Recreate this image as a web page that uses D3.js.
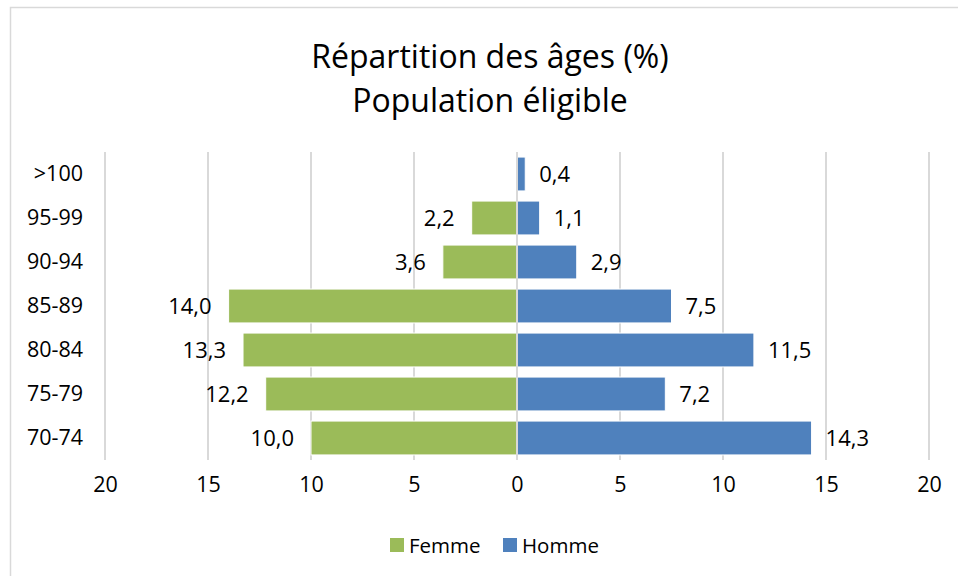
<!DOCTYPE html>
<html>
<head>
<meta charset="utf-8">
<script src="https://cdn.jsdelivr.net/npm/d3@7"></script>
<style>
  body { margin: 0; background: #fff; }
  svg { display: block; font-family: "Open Sans", sans-serif; }
</style>
</head>
<body>
<svg id="chart" width="958" height="576"></svg>
<script>
// tranches d'âge, du haut vers le bas
var ages = [">100", "95-99", "90-94", "85-89", "80-84", "75-79", "70-74"];
var femme = [0, 2.2, 3.6, 14.0, 13.3, 12.2, 10.0];
var homme = [0.4, 1.1, 2.9, 7.5, 11.5, 7.2, 14.3];
var ticks = [-20, -15, -10, -5, 0, 5, 10, 15, 20];
var series = ["Femme", "Homme"];
var colors = ["#9BBB59", "#4F81BD"];

var svg = d3.select("#chart"),
    width = +svg.attr("width"),
    height = +svg.attr("height");

var fr = d3.formatLocale({decimal: ",", thousands: " ", grouping: [3], currency: ["", " €"]});
var fmt = fr.format(".1f");

// cadre du graphique
svg.append("rect")
    .attr("x", 10.5).attr("y", 7.5)
    .attr("width", 970).attr("height", 590)
    .attr("fill", "none")
    .attr("stroke", "#d9d9d9")
    .attr("stroke-width", 1.5);

// titre
var title = svg.append("text")
    .attr("text-anchor", "middle")
    .attr("font-size", 32)
    .attr("fill", "#000");
title.append("tspan").attr("x", 490).attr("y", 68).text("Répartition des âges (%)");
title.append("tspan").attr("x", 490).attr("y", 112).text("Population éligible");

var x = d3.scaleLinear().domain([-20, 20]).range([105, 929]);
var y = d3.scaleBand().domain(ages).range([152, 460]).paddingInner(0.23).paddingOuter(0.115);

// lignes verticales
svg.append("g").selectAll("line")
    .data(ticks.filter(function(d) { return d !== 0; }))
    .enter().append("line")
    .attr("x1", function(d) { return x(d); })
    .attr("x2", function(d) { return x(d); })
    .attr("y1", 152).attr("y2", 460)
    .attr("stroke", "#d9d9d9")
    .attr("stroke-width", 2);

var rows = ages.map(function(a, i) { return {age: a, f: femme[i], h: homme[i]}; });

// barres femmes
svg.append("g").selectAll("rect")
    .data(rows.filter(function(d) { return d.f > 0; }))
    .enter().append("rect")
    .attr("x", function(d) { return x(-d.f); })
    .attr("y", function(d) { return y(d.age); })
    .attr("width", function(d) { return x(0) - x(-d.f); })
    .attr("height", y.bandwidth())
    .attr("fill", colors[0])
    .attr("stroke", "#fff")
    .attr("stroke-width", 1);

// barres hommes
svg.append("g").selectAll("rect")
    .data(rows.filter(function(d) { return d.h > 0; }))
    .enter().append("rect")
    .attr("x", x(0))
    .attr("y", function(d) { return y(d.age); })
    .attr("width", function(d) { return x(d.h) - x(0); })
    .attr("height", y.bandwidth())
    .attr("fill", colors[1])
    .attr("stroke", "#fff")
    .attr("stroke-width", 1);

// axe du zéro
svg.append("line")
    .attr("x1", x(0)).attr("x2", x(0))
    .attr("y1", 152).attr("y2", 460)
    .attr("stroke", "#d9d9d9")
    .attr("stroke-width", 2);

// étiquettes de valeurs
svg.append("g").selectAll("text")
    .data(rows.filter(function(d) { return d.f > 0; }))
    .enter().append("text")
    .attr("x", function(d) { return x(-d.f) - 17; })
    .attr("y", function(d) { return y(d.age) + y.bandwidth() / 2 + 8; })
    .attr("text-anchor", "end")
    .attr("font-size", 22)
    .text(function(d) { return fmt(d.f); });

svg.append("g").selectAll("text")
    .data(rows.filter(function(d) { return d.h > 0; }))
    .enter().append("text")
    .attr("x", function(d) { return x(d.h) + 14; })
    .attr("y", function(d) { return y(d.age) + y.bandwidth() / 2 + 8; })
    .attr("text-anchor", "start")
    .attr("font-size", 22)
    .text(function(d) { return fmt(d.h); });

// catégories
svg.append("g").selectAll("text")
    .data(ages)
    .enter().append("text")
    .attr("x", 83)
    .attr("y", function(d) { return y(d) + y.bandwidth() / 2 + 7; })
    .attr("text-anchor", "end")
    .attr("font-size", 21.5)
    .text(function(d) { return d; });

// axe horizontal
var xAxis = d3.axisBottom(x)
    .tickValues(ticks)
    .tickSize(0)
    .tickPadding(0)
    .tickFormat(function(d) { return Math.abs(d); });

var gx = svg.append("g").attr("transform", "translate(0,477)").call(xAxis);
gx.select(".domain").remove();
gx.selectAll("text")
    .attr("font-family", "Open Sans, sans-serif")
    .attr("font-size", 21.5)
    .attr("fill", "#000")
    .attr("dy", "0.71em");

// légende
var legend = svg.append("g");
var lx = [390, 503];
series.forEach(function(s, i) {
  legend.append("rect")
      .attr("x", lx[i]).attr("y", 538)
      .attr("width", 14).attr("height", 14)
      .attr("fill", colors[i]);
  legend.append("text")
      .attr("x", lx[i] + 19).attr("y", 553)
      .attr("font-size", 20.5)
      .text(s);
});
</script>
</body>
</html>
